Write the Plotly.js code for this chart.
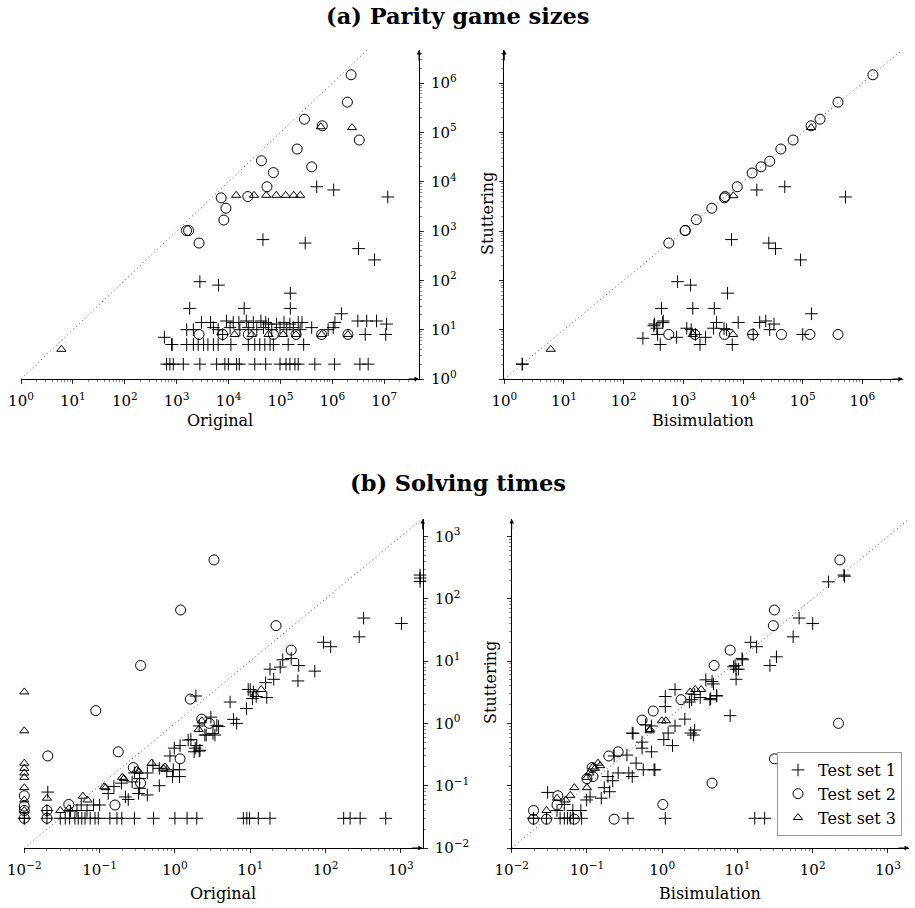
<!DOCTYPE html>
<html><head><meta charset="utf-8">
<script src="https://cdn.plot.ly/plotly-3.0.1.min.js"></script>
<style>html,body{margin:0;padding:0;background:#fff}#chart{width:915px;height:908px}</style>
</head><body><div id="chart"></div>
<script>
// ---------------- DATA ----------------
// (a) Parity game sizes: x = Original, y = Stuttering
const sizeOrigSet1 = [[5.0e5,7.9e3],[1.06e6,6.8e3],[1.17e7,4.9e3],[4.6e4,670],[3.0e5,570],[3.2e6,440],[6.5e6,260],[2.8e3,94],[6.4e3,80],[1.55e5,55],[1.78e3,27],[2.0e4,27],[1.55e5,27],[1.5e6,21],
 [3.0e3,14],[4.5e3,14],[9.1e3,15],[1.23e4,14],[1.58e4,14],[2.2e4,15],[3.0e4,14],[4.2e4,15],[5.2e4,14],[5.9e4,13],[8.4e4,13],[1.17e5,14],[1.52e5,13],[2.2e5,14],[2.6e5,14],[1.12e6,14],[3.1e6,15],[4.6e6,15],[7.1e6,15],[1.11e7,13],
 [1.56e3,10],[2.1e3,10],[5.1e3,11],[6.3e3,10],[1.07e4,11],[1.65e4,10],[2.4e4,11],[3.5e4,10],[4.7e4,11],[6.8e4,10],[9.8e4,11],[1.32e5,10],[1.77e5,11],[2.4e5,10],[4.0e5,11],[8.3e5,10],[1.04e6,11],
 [5.8e2,7],[7.7e3,8],[4.3e6,8],[1.07e7,8],
 [8.0e2,5],[8.2e2,5],[1.56e3,5],[2.1e3,5],[2.6e3,5],[3.3e3,5],[4.0e3,5],[5.1e3,5],[6.3e3,5],[1.11e4,5],[2.4e4,5],[3.2e4,5],[4.0e4,5],[5.0e4,5],[6.3e4,5],[7.3e4,5],[1.41e5,5],[2.8e5,5],
 [6.4e2,2],[7.4e2,2],[8.6e2,2],[1.34e3,2],[2.8e3,2],[5.9e3,2],[8.5e3,2],[9.9e3,2],[1.43e4,2],[1.61e4,2],[3.2e4,2],[5.2e4,2],[9.8e4,2],[1.28e5,2],[1.52e5,2],[1.9e5,2],[2.2e5,2],[4.6e5,2],[1.1e6,2],[3.4e6,2],[4.9e6,2]];
const sizeOrigSet2 = [[2.3e6,1.47e6],[1.95e6,4.1e5],[2.9e5,1.85e5],[6.4e5,1.36e5],[3.3e6,7.0e4],[2.1e5,4.6e4],[4.3e4,2.66e4],[4.0e5,2.0e4],[7.3e4,1.53e4],[5.5e4,7.9e3],[2.35e4,5.0e3],[7.2e3,4.7e3],[8.9e3,2.9e3],[8.1e3,1.67e3],[1.55e3,1.02e3],[1.7e3,1.02e3],[2.7e3,570],
 [2.7e3,8],[7.7e3,8],[2.4e4,8],[7.3e4,8],[2.0e5,8],[6.2e5,8],[2.0e6,8]];
const sizeOrigSet3 = [[6,4],[6.0e5,1.3e5],[2.4e6,1.25e5],[1.4e4,5.3e3],[3.1e4,5.3e3],[5.3e4,5.3e3],[8.3e4,5.3e3],[1.26e5,5.3e3],[1.8e5,5.3e3],[2.4e5,5.3e3],
 [1.3e4,8],[2.8e4,8],[5.9e4,8],[1.13e5,8],[2.0e5,8],[6.2e5,8],[2.0e6,8]];

// (a) Parity game sizes: x = Bisimulation, y = Stuttering
const sizeBisimSet1 = [[2,2],[2,2],[1.7e4,6.8e3],[5.0e4,7.9e3],[5.2e5,4.9e3],[6.4e3,670],[2.7e4,570],[3.5e4,440],[9.2e4,260],[800,94],[1.32e3,80],[5.5e3,55],[430,27],[1.44e3,27],[3.3e3,27],[1.4e5,21],
 [330,13],[450,14],[460,15],[3.6e3,14],[8.3e3,14],[1.9e4,14],[2.4e4,15],[3.3e4,13],
 [360,10.7],[320,12],[1.14e3,10.7],[1.35e3,10],[3.2e3,10.7],[4.8e3,10.5],[5.3e3,10],[2.8e4,10],
 [370,8],[1.6e3,8],[1.48e4,8],[1.0e5,8],
 [210,6.7],[770,7],[2.35e3,7],
 [410,5],[1.9e3,5],[6.6e3,5]];
const sizeBisimSet2 = [[570,570],[1.08e3,1.03e3],[1.07e3,1.02e3],[1.65e3,1.7e3],[3.0e3,2.9e3],[4.9e3,4.7e3],[5.0e3,5.0e3],[8.0e3,7.9e3],[1.42e4,1.5e4],[2.0e4,2.0e4],[2.8e4,2.6e4],[4.3e4,4.6e4],[6.9e4,7.0e4],[1.38e5,1.36e5],[1.95e5,1.85e5],[3.9e5,4.1e5],[1.5e6,1.47e6],
 [570,8],[1.56e3,8],[4.9e3,8],[1.45e4,8],[4.4e4,8],[1.32e5,8],[3.9e5,8]];
const sizeBisimSet3 = [[6,4],[6.9e3,5.2e3],[1.38e5,1.25e5],[1.44e3,8],[6.8e3,8]];

// (b) Solving times: x = Original, y = Stuttering
const timeOrigSet1 = [[0.010,0.03],[0.010,0.03],[0.020,0.03],[0.030,0.03],[0.035,0.03],[0.040,0.03],[0.047,0.03],[0.052,0.03],[0.058,0.03],[0.064,0.03],[0.075,0.03],[0.087,0.03],[0.096,0.03],[0.137,0.03],[0.17,0.03],[0.197,0.03],[0.29,0.03],[0.52,0.03],[1.0,0.03],[1.45,0.03],[1.95,0.03],[8.1,0.03],[9.0,0.03],[9.8,0.03],[12.8,0.03],[18.3,0.03],[174,0.03],[212,0.03],[288,0.03],[630,0.03],
 [1800,240],[1800,215],[1800,190],[320,49],[1020,40],[280,24.5],[94,20],[117,17],[35,11],[27,10.5],[44,8.5],[18.3,7.4],[25,8.0],[20.5,5.1],[72,6.9],[43,4.8],[16.6,2.6],[9.4,3.5],[10.7,2.5],[8.9,1.73],[5.4,2.2],[6.0,1.16],[6.6,1.0],
 [1.9,2.75],[3.0,1.26],[2.1,0.91],[3.8,0.89],[2.6,0.65],[3.4,0.65],[1.63,0.55],[1.95,0.44],[2.15,0.37],[1.8,0.35],[1.17,0.44],[0.98,0.40],[0.86,0.30],[1.15,0.14],[1.15,0.18],[0.62,0.10],[0.43,0.071],[0.33,0.075],[0.34,0.091],[0.24,0.06],[0.22,0.066],[0.195,0.11],[0.27,0.115],[0.29,0.16],[0.78,0.17],[0.43,0.16],[0.155,0.097],[0.13,0.075],[0.10,0.049],[0.083,0.049],[0.068,0.04],[0.05,0.04],[0.057,0.049],[0.0205,0.079],[0.041,0.039],[0.93,0.14],[0.51,0.21],[0.62,0.19],[0.95,0.18],[0.34,0.13],
 [12,2.7],[16,4.5],[10,3.5],[11,3.2],[3.6,0.93],[3.2,0.69],[1.5,0.54],[1.86,0.40],[2.1,0.36],[2.5,0.65],[0.02,0.04]];
const timeOrigSet2 = [[3.3,420],[1.19,66],[22,37],[35,15],[0.35,8.5],[0.089,1.6],[1.6,2.45],[2.27,1.17],[2.86,1.0],[0.0205,0.30],[0.177,0.35],[0.28,0.195],[1.17,0.27],[0.35,0.11],[0.16,0.049],[0.039,0.050],[0.020,0.040],[0.010,0.069],[0.010,0.040],[0.010,0.030],[0.020,0.030],[0.010,0.047]];
const timeOrigSet3 = [[0.01,3.2],[0.01,0.76],[0.01,0.23],[0.01,0.19],[0.01,0.16],[0.01,0.136],[0.01,0.093],[0.01,0.059],[0.01,0.040],[0.02,0.063],[0.030,0.040],[0.039,0.043],[0.06,0.068],[0.069,0.059],[0.115,0.096],[0.12,0.093],[0.199,0.136],[0.21,0.13],[0.31,0.178],[0.33,0.17],[0.49,0.23],[0.70,0.19],[0.74,0.2],[2.07,0.80],[2.27,1.1],[14,3.5],[11.5,2.9]];

// (b) Solving times: x = Bisimulation, y = Stuttering
const timeBisimSet1 = [[265,230],[260,240],[162,187],[66,49],[100,40],[55,24.5],[15,20],[18,17],[33,11.7],[27,8.5],[11.7,10.5],[9.6,7.4],[9.6,5.1],[9.3,8.5],[10.3,7.4],[11.5,11],[8.9,8.1],[8.0,1.33],[5.3,2.75],[4.6,4.7],[3.8,5.0],[4.8,4.3],[4.4,2.5],[2.46,2.4],[2.7,2.9],[1.48,3.5],[1.1,2.7],[1.1,1.86],[2.0,1.17],[2.3,2.2],[3.2,2.6],[4.3,2.4],[5.3,2.8],
 [2.7,0.78],[2.4,0.7],[2.6,0.65],[1.48,0.91],[1.2,0.7],[1.05,0.55],[1.37,0.44],[0.72,0.91],[0.6,0.95],[0.40,0.70],[0.41,0.69],[0.54,0.50],[0.54,0.40],[0.72,0.35],[0.34,0.31],[0.45,0.23],[0.56,0.18],[0.78,0.18],[0.8,0.18],[0.36,0.16],[0.40,0.14],[0.23,0.30],[0.26,0.16],[0.22,0.12],[0.19,0.14],[0.17,0.093],[0.2,0.08],[0.155,0.063],[0.11,0.066],[0.099,0.059],[0.03,0.078],[0.083,0.04],[0.065,0.04],[0.05,0.03],[0.044,0.03],[0.085,0.03],[0.35,0.03],[1.1,0.03],[17,0.03],[23,0.03],[0.0195,0.03],[0.0195,0.03],[0.029,0.03],[0.06,0.03],[0.066,0.03],[0.055,0.03],[0.04,0.04],[0.05,0.05]];
const timeBisimSet2 = [[230,420],[31,66],[30,37],[8.0,15],[4.9,8.5],[220,1.0],[0.76,1.58],[1.78,2.4],[0.54,1.13],[0.26,0.35],[0.195,0.30],[0.117,0.195],[31,0.27],[4.6,0.11],[1.02,0.05],[0.041,0.069],[0.23,0.029],[0.068,0.029],[0.0195,0.040],[0.0195,0.029],[0.029,0.029],[0.04,0.049],[0.1,0.13],[0.12,0.14]];
const timeBisimSet3 = [[2.35,3.2],[2.75,3.5],[3.3,3.5],[0.68,0.76],[0.69,0.80],[0.99,1.1],[1.12,1.1],[0.04,0.063],[0.029,0.040],[0.068,0.093],[0.1,0.136],[0.108,0.16],[0.128,0.19],[0.14,0.23],[0.052,0.059],[0.1,0.093],[0.12,0.2],[0.15,0.21],[0.06,0.07]];

const seriesNames = ['Test set 1','Test set 2','Test set 3'];
const sizeTickVals = [1,10,100,1e3,1e4,1e5,1e6,1e7];
const sizeTickText = ['10<sup>0</sup>','10<sup>1</sup>','10<sup>2</sup>','10<sup>3</sup>','10<sup>4</sup>','10<sup>5</sup>','10<sup>6</sup>','10<sup>7</sup>'];
const timeTickVals = [0.01,0.1,1,10,100,1000];
const timeTickText = ['10<sup>\u22122</sup>','10<sup>\u22121</sup>','10<sup>0</sup>','10<sup>1</sup>','10<sup>2</sup>','10<sup>3</sup>'];
const panelTitles = ['(a) Parity game sizes','(b) Solving times'];
const axisTitles = {orig:'Original', bisim:'Bisimulation', stut:'Stuttering'};

// ---------------- LAYOUT ----------------
const W = 915, H = 908, F = '"DejaVu Serif", serif';
const px2x = v => v / W, px2y = v => 1 - v / H;
// pixel boxes for the 4 panels
const P = {
  tl: {x:[21,419],    y:[50,379],  xr:[0,7.67],  yr:[0,6.67]},
  tr: {x:[504.3,903], y:[50,379],  xr:[0,6.68],  yr:[0,6.67]},
  bl: {x:[24.3,422.7],y:[519,848], xr:[-2,3.29], yr:[-2,3.28]},
  br: {x:[511.7,909], y:[519,848], xr:[-2,3.28], yr:[-2,3.28]}
};
const dom = b => ({x:[px2x(b.x[0]), px2x(b.x[1])], y:[px2y(b.y[1]), px2y(b.y[0])]});

function baseAx(extra){
  return Object.assign({
    type:'log', showgrid:false, zeroline:false, showline:true, linecolor:'#000', linewidth:1,
    ticks:'outside', ticklen:4, tickwidth:0.8, tickcolor:'#000', ticklabelstandoff:4,
    minor:{ticks:'outside', ticklen:2, tickwidth:0.6, tickcolor:'#333', tickmode:'linear', dtick:'D1', showgrid:false},
    tickmode:'array', tickfont:{family:F, size:15, color:'#000'}, fixedrange:true, automargin:false
  }, extra);
}
function twinAx(extra){
  return Object.assign({
    type:'log', showgrid:false, zeroline:false, showline:false,
    ticks:'inside', ticklen:4, tickwidth:0.8, tickcolor:'#000',
    minor:{ticks:'inside', ticklen:2, tickwidth:0.6, tickcolor:'#333', tickmode:'linear', dtick:'D1', showgrid:false},
    tickmode:'array', showticklabels:false, fixedrange:true, automargin:false
  }, extra);
}

const layout = {
  width:W, height:H, margin:{l:0,r:0,t:0,b:0}, paper_bgcolor:'#fff', plot_bgcolor:'rgba(0,0,0,0)',
  hovermode:false, showlegend:true,
  font:{family:F, color:'#000'},
  legend:{x:px2x(777), y:px2y(752), xanchor:'left', yanchor:'top', bgcolor:'#fff', bordercolor:'#999', borderwidth:1,
    font:{family:F, size:16, color:'#000'}, itemwidth:30, tracegroupgap:0},
  annotations:[], shapes:[]
};

const axDefs = [
  ['tl', 'x','y',  sizeTickVals, sizeTickText, 'right', true],
  ['tr', 'x2','y2', sizeTickVals, sizeTickText, 'left', false],
  ['bl', 'x3','y3', timeTickVals, timeTickText, 'right', true],
  ['br', 'x4','y4', timeTickVals, timeTickText, 'left', false]
];
axDefs.forEach((d, i) => {
  const b = P[d[0]], dm = dom(b);
  const xn = d[1] === 'x' ? 'xaxis' : 'xaxis' + d[1].slice(1);
  const yn = d[2] === 'y' ? 'yaxis' : 'yaxis' + d[2].slice(1);
  layout[xn] = baseAx({domain:dm.x, range:b.xr, anchor:d[2], side:'bottom', tickvals:d[3], ticktext:d[4]});
  layout[yn] = baseAx({domain:dm.y, range:b.yr, anchor:d[1], side:d[5], tickvals:d[3], ticktext:d[4], showticklabels:d[6]});
  // twin axes so that ticks cross the axis line
  layout['xaxis' + (i + 5)] = twinAx({overlaying:d[1], anchor:d[2], range:b.xr, side:'bottom', tickvals:d[3]});
  layout['yaxis' + (i + 5)] = twinAx({overlaying:d[2], anchor:d[1], range:b.yr, side:d[5], tickvals:d[3]});
  // axis arrows
  layout.annotations.push({xref:'paper', yref:'paper', x:dm.x[1], y:dm.y[0], ax:-12, ay:0, axref:'pixel', ayref:'pixel', text:'', showarrow:true, arrowhead:2, arrowsize:0.9, arrowwidth:1, arrowcolor:'#000'});
  const yAxX = d[5] === 'right' ? dm.x[1] : dm.x[0];
  layout.annotations.push({xref:'paper', yref:'paper', x:yAxX, y:dm.y[1], ax:0, ay:12, axref:'pixel', ayref:'pixel', text:'', showarrow:true, arrowhead:2, arrowsize:0.9, arrowwidth:1, arrowcolor:'#000'});
  // y = x reference line
  const lo = Math.pow(10, Math.max(b.xr[0], b.yr[0])), hi = Math.pow(10, Math.min(b.xr[1], b.yr[1]));
  layout.shapes.push({type:'line', xref:d[1], yref:d[2], x0:lo, y0:lo, x1:hi, y1:hi, line:{color:'#555', width:1, dash:'1px,3px'}, layer:'below'});
});

function txt(t, x, y, size, opts){
  return Object.assign({xref:'paper', yref:'paper', x:px2x(x), y:px2y(y), text:t, showarrow:false, xanchor:'center', yanchor:'middle', font:{family:F, size:size, color:'#000'}}, opts || {});
}
layout.annotations.push(txt('<b>' + panelTitles[0] + '</b>', 458, 16, 22.5));
layout.annotations.push(txt('<b>' + panelTitles[1] + '</b>', 458, 483, 22.5));
layout.annotations.push(txt(axisTitles.orig, 220, 420, 16));
layout.annotations.push(txt(axisTitles.bisim, 703, 420, 16));
layout.annotations.push(txt(axisTitles.orig, 223, 893, 16));
layout.annotations.push(txt(axisTitles.bisim, 710, 893, 16));
layout.annotations.push(txt(axisTitles.stut, 488, 214, 16, {textangle:-90}));
layout.annotations.push(txt(axisTitles.stut, 490, 683, 16, {textangle:-90}));

// ---------------- TRACES ----------------
const markerStyles = [
  {symbol:'cross-thin-open', size:9, color:'#000', line:{color:'#000', width:1}},
  {symbol:'circle-open', size:10, color:'#000', line:{color:'#000', width:1}},
  {symbol:'triangle-up-open', size:8, color:'#000', line:{color:'#000', width:1}}
];
const panels = [
  ['x','y',  [sizeOrigSet1, sizeOrigSet2, sizeOrigSet3]],
  ['x2','y2',[sizeBisimSet1, sizeBisimSet2, sizeBisimSet3]],
  ['x3','y3',[timeOrigSet1, timeOrigSet2, timeOrigSet3]],
  ['x4','y4',[timeBisimSet1, timeBisimSet2, timeBisimSet3]]
];
const traces = [];
panels.forEach((p, pi) => {
  p[2].forEach((pts, si) => {
    traces.push({
      type:'scatter', mode:'markers', xaxis:p[0], yaxis:p[1], cliponaxis:false,
      x: pts.map(v => v[0]), y: pts.map(v => v[1]),
      name: seriesNames[si], legendgroup:'s' + si, showlegend: pi === 3,
      marker: markerStyles[si], hoverinfo:'skip'
    });
  });
});

Plotly.newPlot('chart', traces, layout, {staticPlot:true, displayModeBar:false});
</script>
</body></html>
